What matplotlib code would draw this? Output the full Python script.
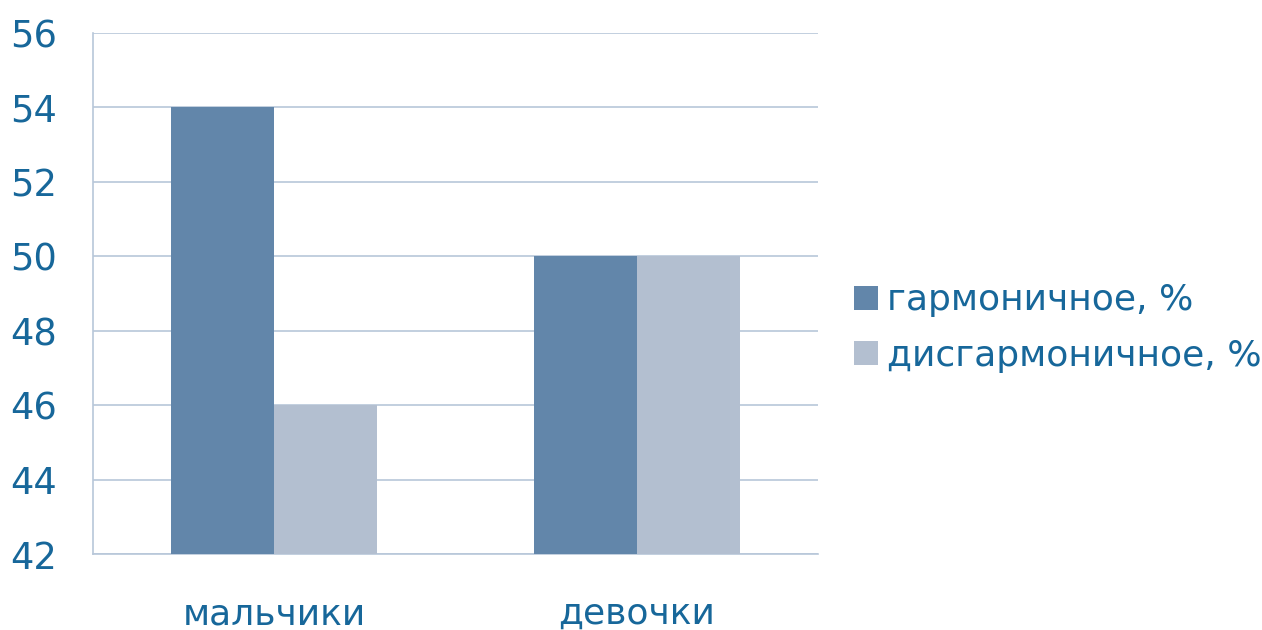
import matplotlib.pyplot as plt
import numpy as np

categories = ['мальчики', 'девочки']
series_names = ['гармоничное, %', 'дисгармоничное, %']
harmonic = [54, 50]
disharmonic = [46, 50]
yticks = [42, 44, 46, 48, 50, 52, 54, 56]

c_dark = '#6286aa'
c_light = '#b3bfd0'
c_grid = '#b8c7d9'
c_text = '#17679a'

plt.rcParams['font.family'] = ['DejaVu Sans']

fig = plt.figure(figsize=(12.62, 6.3), dpi=100)
ax = fig.add_axes([0.0737, 0.1206, 0.5745, 0.827])

x = np.arange(len(categories))
w = 0.284
ax.bar(x - w / 2, harmonic, w, color=c_dark, label=series_names[0], zorder=3)
ax.bar(x + w / 2, disharmonic, w, color=c_light, label=series_names[1], zorder=3)

ax.set_xlim(-0.5, 1.5)
ax.set_ylim(42, 56)
ax.set_yticks(yticks)
ax.set_xticks(x)
ax.set_xticklabels(categories)
ax.grid(axis='y', color=c_grid, lw=1.2, zorder=0)
ax.tick_params(axis='y', length=0, pad=26, labelsize=26.5, labelcolor=c_text)
ax.tick_params(axis='x', length=0, pad=31, labelsize=26, labelcolor=c_text)
for s in ['top', 'right']:
    ax.spines[s].set_visible(False)
for s in ['left', 'bottom']:
    ax.spines[s].set_color(c_grid)
    ax.spines[s].set_linewidth(1.2)

leg = fig.legend(loc='center left', bbox_to_anchor=(0.651, 0.479), frameon=False,
                 fontsize=26, handlelength=0.65, handleheight=0.65, handletextpad=0.25,
                 labelspacing=0.6, labelcolor=c_text)

fig.savefig('out.png', dpi=100)
